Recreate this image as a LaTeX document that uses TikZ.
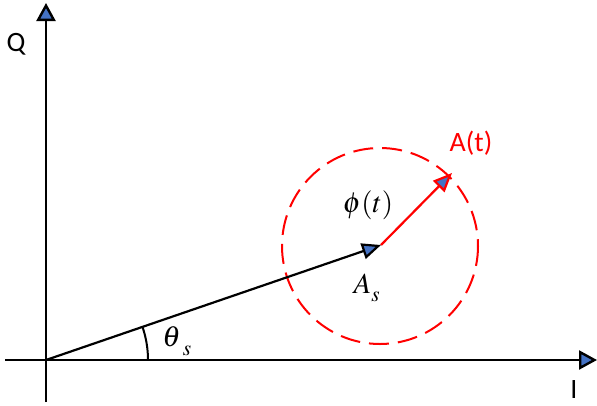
\documentclass[tikz,border=0pt]{standalone}
\usepackage{mathptmx}
\usepackage{fontspec}
\setmainfont{Carlito}
\usetikzlibrary{arrows.meta}
\definecolor{tipblue}{HTML}{4472C4}
\begin{document}
\begin{tikzpicture}[x=1pt,y=-1pt,
  axis/.style={line width=2.4pt,-{Triangle[length=18pt,width=19pt,fill=tipblue]}},
  vec/.style={line width=2.2pt,-{Triangle[length=19pt,width=16pt,fill=tipblue]}},
  lbl/.style={inner sep=0pt,font=\fontsize{28}{30}\selectfont},
  mlbl/.style={inner sep=0pt,font=\fontsize{29}{31}\selectfont}]
\useasboundingbox (0,0) rectangle (597,405);
\coordinate (O) at (46,360);
\coordinate (xs) at (5,360);
\coordinate (xe) at (597,360);
\coordinate (ys) at (46,402);
\coordinate (ye) at (46,3);
\coordinate (As) at (381,245);
\coordinate (At) at (452,173);
\draw[axis] (xs) -- (xe);
\draw[axis] (ys) -- (ye);
\draw[red,line width=2pt,dash pattern=on 20pt off 9pt] (380,246) circle (98);
\draw[vec,red] (As) -- (At);
\draw[vec] (O) -- (As);
\draw[line width=2pt] ([shift={(0:102)}]O) arc[start angle=0,end angle=-18.9,radius=102];
\node[lbl] (q) at (16,44) {Q};
\node[lbl] (i) at (574,390) {I};
\node[lbl,red] (a) at (471,143) {A(t)};
\node[mlbl] (phi) at (368,205) {$\phi(t)$};
\node[mlbl] (as) at (367,288) {$A_{\raisebox{-3pt}{$\scriptstyle s$}}$};
\node[mlbl] (th) at (177,341) {$\theta\hspace{2pt}_{\raisebox{-5pt}{$\scriptstyle s$}}$};
\end{tikzpicture}
\end{document}
